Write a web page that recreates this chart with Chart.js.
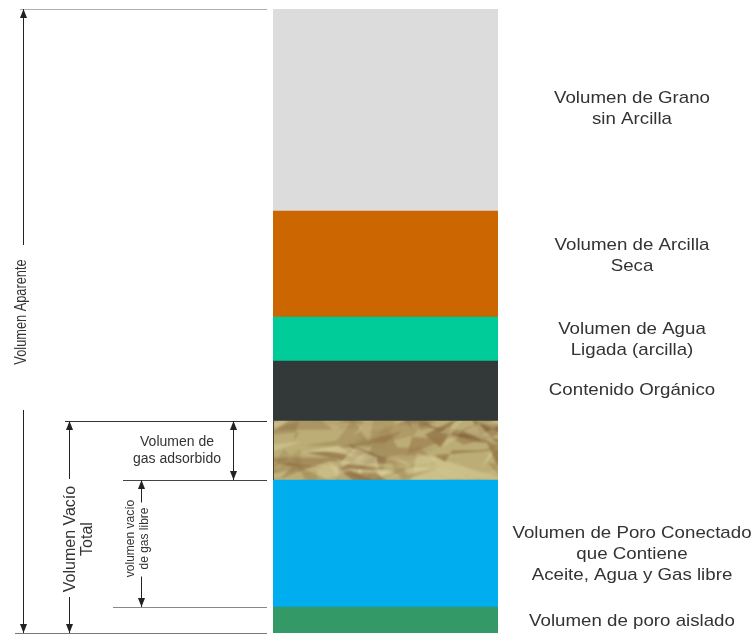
<!DOCTYPE html>
<html>
<head>
<meta charset="utf-8">
<script src="https://cdn.jsdelivr.net/npm/chart.js@4/dist/chart.umd.min.js"></script>
<style>
  html, body { margin: 0; padding: 0; background: #ffffff; }
  #wrap { width: 755px; height: 634px; }
</style>
</head>
<body>
<div id="wrap"><canvas id="grafico"></canvas></div>
<script>
// Capas de la columna, de arriba hacia abajo
const capas = [
    ['Volumen de Grano', 'sin Arcilla'],
    ['Volumen de Arcilla', 'Seca'],
    ['Volumen de Agua', 'Ligada (arcilla)'],
    ['Contenido Orgánico'],
    [''],
    ['Volumen de Poro Conectado', 'que Contiene', 'Aceite, Agua y Gas libre'],
    ['Volumen de poro aislado']
];
const volumenes = [202, 106, 44, 60, 59, 127, 26];
const colores = ['#dcdcdc', '#cc6600', '#00cc99', '#333838', 'textura', '#00aeef', '#339966'];

// Textura "papel arrugado" para el gas adsorbido
function crearTextura() {
    const c = document.createElement('canvas');
    c.width = 620; c.height = 620;
    const g = c.getContext('2d');
    g.fillStyle = '#bcad76';
    g.fillRect(0, 0, c.width, c.height);
    let s = 11;
    const rnd = () => { s = (s * 16807) % 2147483647; return s / 2147483647; };
    const tonos = ['#86643b', '#977749', '#d9d09a', '#cdc189', '#745531', '#e2dba8', '#a88e5c', '#8e6c40', '#7d5d36'];
    for (let i = 0; i < 1400; i++) {
        const x = rnd() * 660 - 20, y = rnd() * 660 - 20;
        g.globalAlpha = 0.25 + rnd() * 0.4;
        g.fillStyle = tonos[Math.floor(rnd() * tonos.length)];
        g.beginPath();
        g.moveTo(x, y);
        for (let k = 0; k < 3; k++) g.lineTo(x + rnd() * 100 - 50, y + rnd() * 44 - 22);
        g.closePath();
        g.fill();
    }
    g.globalAlpha = 1;
    const d = document.createElement('canvas');
    d.width = c.width; d.height = c.height;
    const h = d.getContext('2d');
    h.filter = 'blur(1.2px)';
    h.drawImage(c, 0, 0);
    return h.createPattern(d, 'repeat');
}

const ctx = document.getElementById('grafico').getContext('2d');
const textura = crearTextura();

// Chart.js apila desde el primer dataset hacia arriba: invertimos el orden
const datasets = volumenes.map((v, i) => ({
    label: capas[i].join(' '),
    data: [v],
    backgroundColor: colores[i] === 'textura' ? textura : colores[i],
    borderWidth: 0,
    barPercentage: 1,
    categoryPercentage: 1,
    indice: i
})).reverse();

const total = volumenes.reduce((a, b) => a + b, 0);

function flecha(g, x, y1, y2, hueco) {
    // línea vertical con puntas en ambos extremos, interrumpida en el hueco [a, b]
    const tramos = hueco ? [[y1, hueco[0]], [hueco[1], y2]] : [[y1, y2]];
    g.beginPath();
    tramos.forEach(([a, b]) => { g.moveTo(x, a); g.lineTo(x, b); });
    g.stroke();
    [[y1, 1], [y2, -1]].forEach(([y, d]) => {
        g.beginPath();
        g.moveTo(x, y);
        g.lineTo(x - 3.5, y + d * 9);
        g.lineTo(x + 3.5, y + d * 9);
        g.closePath();
        g.fill();
    });
}

function textoVertical(g, lineas, x, y, salto, estirar) {
    g.save();
    g.translate(x, y);
    g.rotate(-Math.PI / 2);
    g.scale(estirar || 1, 1);
    g.textAlign = 'center';
    g.textBaseline = 'middle';
    lineas.forEach((t, k) => g.fillText(t, 0, (k - (lineas.length - 1) / 2) * salto));
    g.restore();
}

const anotaciones = {
    id: 'anotaciones',
    afterDatasetsDraw(chart) {
        const g = chart.ctx;
        const y = chart.scales.y;
        const area = chart.chartArea;
        // límites acumulados desde abajo
        const acum = [];
        let suma = 0;
        for (let i = volumenes.length - 1; i >= 0; i--) { suma += volumenes[i]; acum[i] = suma; }
        const yTope = y.getPixelForValue(total);
        const yBase = y.getPixelForValue(0);
        const yGas = y.getPixelForValue(acum[4]);      // techo del gas adsorbido
        const yLibre = y.getPixelForValue(acum[5]);    // techo del poro conectado
        const yAislado = y.getPixelForValue(acum[6]);  // techo del poro aislado

        g.save();
        g.lineWidth = 1;
        // borde oscuro a la izquierda de la textura
        g.strokeStyle = '#4a4030';
        g.beginPath();
        g.moveTo(area.left + 0.5, yGas);
        g.lineTo(area.left + 0.5, yLibre);
        g.stroke();

        // líneas guía horizontales
        const guias = [
            [yTope, 20, '#b0b0b0'],
            [yBase, 15, '#777777'],
            [yGas, 65, '#333333'],
            [yLibre, 123, '#444444'],
            [yAislado, 113, '#888888']
        ];
        guias.forEach(([py, x0, col]) => {
            g.strokeStyle = col;
            g.beginPath();
            g.moveTo(x0, Math.round(py) + 0.5);
            g.lineTo(area.left - 6, Math.round(py) + 0.5);
            g.stroke();
        });

        g.strokeStyle = '#222';
        const fuente = px => px + 'px "Liberation Sans", Arial, sans-serif';

        // Volumen Aparente
        const cAp = (yTope + yBase) / 2 - 9;
        g.fillStyle = '#222';
        flecha(g, 23.5, yTope, yBase, [cAp - 67, cAp + 98]);
        g.fillStyle = '#333';
        g.font = fuente(16);
        textoVertical(g, ['Volumen Aparente'], 22, cAp, 16, 0.8);

        // Volumen Vacío Total
        const cVt = (yGas + yBase) / 2 + 12;
        g.fillStyle = '#222';
        flecha(g, 69.5, yGas, yBase, [cVt - 60, cVt + 58]);
        g.fillStyle = '#333';
        g.font = fuente(16);
        textoVertical(g, ['Volumen Vacío', 'Total'], 79, cVt, 17);

        // Volumen de gas adsorbido
        g.fillStyle = '#222';
        flecha(g, 233.5, yGas, yLibre);
        g.fillStyle = '#333';
        g.font = fuente(14);
        g.textAlign = 'center';
        g.textBaseline = 'middle';
        g.fillText('Volumen de', 177, yGas + 21);
        g.fillText('gas adsorbido', 177, yGas + 38);

        // volumen vacío de gas libre
        const cGl = (yLibre + yAislado) / 2 - 5;
        g.fillStyle = '#222';
        flecha(g, 141.5, yLibre, yAislado, [cGl - 36, cGl + 38]);
        g.fillStyle = '#333';
        g.font = fuente(12);
        textoVertical(g, ['volumen vacío', 'de gas libre'], 138, cGl, 14);

        // etiquetas a la derecha de cada capa (ajuste vertical fino por capa)
        const ajuste = [-1, -8, 1, -1, 0, 11, 1];
        g.font = fuente(17);
        g.fillStyle = '#333';
        g.textAlign = 'center';
        g.textBaseline = 'middle';
        chart.data.datasets.forEach((ds, k) => {
            const barra = chart.getDatasetMeta(k).data[0];
            const centro = (barra.y + barra.base) / 2 + ajuste[ds.indice];
            const lineas = capas[ds.indice];
            lineas.forEach((t, j) => {
                g.save();
                g.translate(area.right + 134, centro + (j - (lineas.length - 1) / 2) * 21);
                g.scale(1.1, 1);
                g.fillText(t, 0, 0);
                g.restore();
            });
        });
        g.restore();
    }
};

new Chart(ctx, {
    type: 'bar',
    data: {
        labels: ['Columna'],
        datasets: datasets
    },
    options: {
        responsive: true,
        maintainAspectRatio: false,
        animation: false,
        layout: {
            padding: { left: 273, right: 257, top: 9, bottom: 1 }
        },
        plugins: {
            legend: { display: false },
            tooltip: { enabled: false }
        },
        scales: {
            x: { stacked: true, display: false },
            y: { stacked: true, display: false, min: 0, max: total }
        }
    },
    plugins: [anotaciones]
});
</script>
</body>
</html>
